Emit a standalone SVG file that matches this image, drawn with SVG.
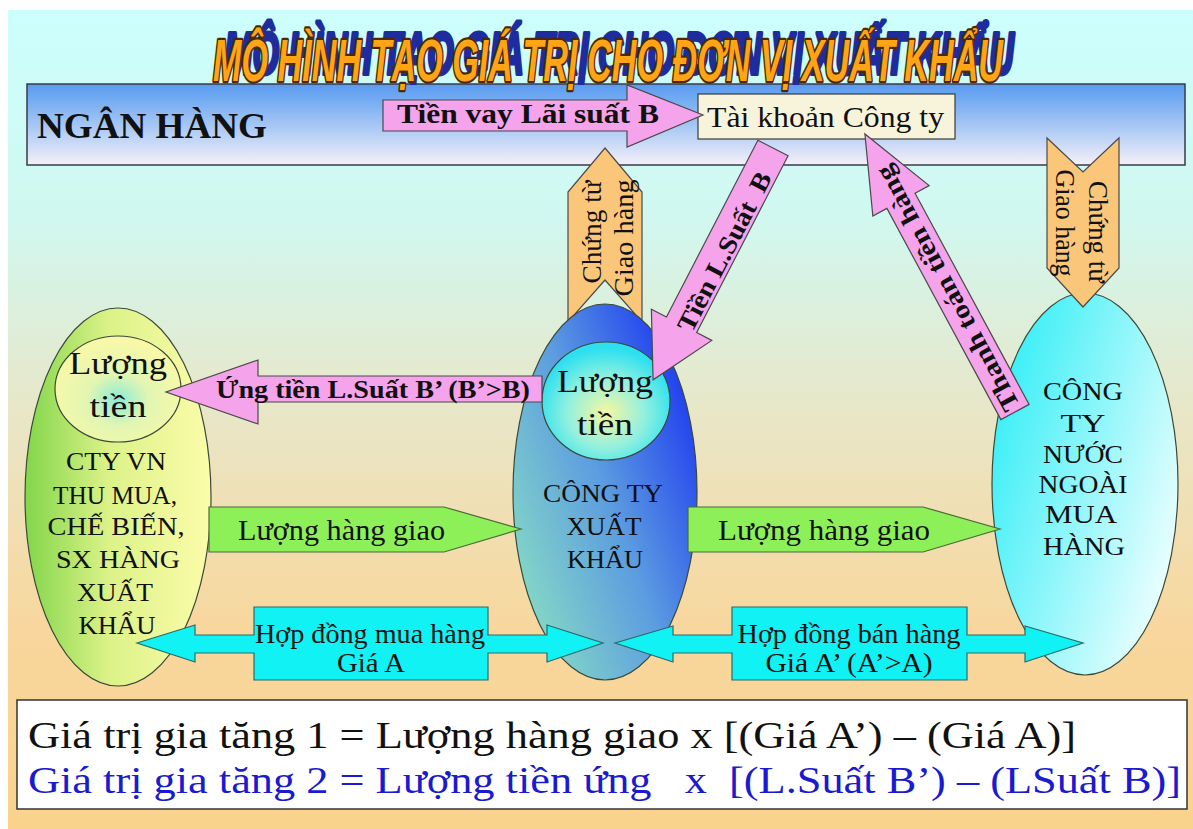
<svg xmlns="http://www.w3.org/2000/svg" width="1193" height="829" viewBox="0 0 1193 829">
  <defs>
    <linearGradient id="bgGrad" x1="0" y1="0" x2="0" y2="1">
      <stop offset="0" stop-color="#ccfffd"/>
      <stop offset="0.25" stop-color="#d0f8f0"/>
      <stop offset="0.5" stop-color="#e9e6c6"/>
      <stop offset="0.75" stop-color="#f8d79e"/>
      <stop offset="1" stop-color="#fad28c"/>
    </linearGradient>
    <linearGradient id="bankGrad" x1="0" y1="0" x2="0" y2="1">
      <stop offset="0" stop-color="#5a9af0"/>
      <stop offset="0.2" stop-color="#74acf2"/>
      <stop offset="1" stop-color="#f4f0f8"/>
    </linearGradient>
    <linearGradient id="vnGrad" x1="0" y1="0" x2="1" y2="0">
      <stop offset="0" stop-color="#82d64a"/>
      <stop offset="0.45" stop-color="#dcf288"/>
      <stop offset="1" stop-color="#fcfcaa"/>
    </linearGradient>
    <radialGradient id="vnCoin" cx="0.5" cy="0.6" r="0.55">
      <stop offset="0" stop-color="#8eead6"/>
      <stop offset="0.45" stop-color="#e2f6b2"/>
      <stop offset="1" stop-color="#f8f8a8"/>
    </radialGradient>
    <linearGradient id="expGrad" x1="0.1" y1="0.85" x2="0.95" y2="0.2">
      <stop offset="0" stop-color="#84d8c6"/>
      <stop offset="0.5" stop-color="#5c9ce0"/>
      <stop offset="1" stop-color="#1e3cf0"/>
    </linearGradient>
    <radialGradient id="expCoin" cx="0.5" cy="0.6" r="0.55">
      <stop offset="0" stop-color="#f6f7a0"/>
      <stop offset="0.55" stop-color="#92f0de"/>
      <stop offset="1" stop-color="#2ce0f0"/>
    </radialGradient>
    <linearGradient id="fgnGrad" x1="0" y1="0.2" x2="1" y2="0.8">
      <stop offset="0" stop-color="#30eef6"/>
      <stop offset="1" stop-color="#f6ffff"/>
    </linearGradient>
    <style>
      .serif { font-family: "Liberation Serif", "Times New Roman", serif; fill: #111; }
      .bold { font-weight: bold; }
      .mid { text-anchor: middle; }
      .pink { fill: #f5a3ea; stroke: #4a4a4a; stroke-width: 1.2; }
      .doc { fill: #f9c67a; stroke: #4a4a4a; stroke-width: 1.2; }
      .goods { fill: #8ef058; stroke: #4a6a3a; stroke-width: 1.2; }
      .deal { fill: #10f2f4; stroke: #2a6a6a; stroke-width: 1.2; }
      .node { stroke: #3a4a3a; stroke-width: 1.2; }
      .title { font-family: "Liberation Sans", Arial, sans-serif; font-weight: bold; font-style: italic; font-size: 60px; paint-order: stroke; stroke-linejoin: round; }
    </style>
  </defs>

  <!-- backdrop -->
  <rect x="0" y="0" width="1193" height="829" fill="#ffffff"/>
  <rect x="8" y="10" width="1185" height="819" fill="url(#bgGrad)"/>

  <!-- bank band -->
  <g id="bank">
    <rect x="27" y="84" width="1158" height="81" fill="url(#bankGrad)" stroke="#3a3a4a" stroke-width="1.5"/>
    <text class="serif bold" x="37" y="138" font-size="36" textLength="230" lengthAdjust="spacingAndGlyphs">NGÂN HÀNG</text>
  </g>

  <!-- heading: blue drop copy under an outlined orange face -->
  <g id="heading">
    <text class="title" x="224" y="74" fill="#1e2c9e" stroke="#1e2c9e" stroke-width="4" textLength="790" lengthAdjust="spacingAndGlyphs">MÔ HÌNH TẠO GIÁ TRỊ CHO ĐƠN VỊ XUẤT KHẨU</text>
    <text class="title" x="213" y="81" fill="#ffa416" stroke="#4a2a00" stroke-width="4.5" textLength="790" lengthAdjust="spacingAndGlyphs">MÔ HÌNH TẠO GIÁ TRỊ CHO ĐƠN VỊ XUẤT KHẨU</text>
  </g>

  <!-- company account -->
  <g id="account">
    <rect x="698" y="94" width="257" height="45" fill="#f8f4dc" stroke="#3a3a3a" stroke-width="1.2"/>
    <text class="serif" x="707" y="127" font-size="30" textLength="237" lengthAdjust="spacingAndGlyphs">Tài khoản Công ty</text>
  </g>

  <!-- delivery documents behind the exporter -->
  <g id="docs-exporter">
    <polygon class="doc" points="605,148 642,192 642,322 605,280 568,322 568,192"/>
  </g>

  <!-- Vietnamese supplier -->
  <g id="supplier">
    <ellipse class="node" cx="118" cy="497" rx="93" ry="189" fill="url(#vnGrad)"/>
    <ellipse class="node" cx="118" cy="389" rx="63" ry="53" fill="url(#vnCoin)"/>
    <text class="serif mid" x="118" y="374" font-size="31" textLength="98" lengthAdjust="spacingAndGlyphs">Lượng</text>
    <text class="serif mid" x="118" y="417" font-size="31" textLength="57" lengthAdjust="spacingAndGlyphs">tiền</text>
    <g class="serif mid" font-size="25">
      <text x="116" y="470" textLength="100" lengthAdjust="spacingAndGlyphs">CTY VN</text>
      <text x="115" y="504" textLength="124" lengthAdjust="spacingAndGlyphs">THU MUA,</text>
      <text x="116" y="535" textLength="137" lengthAdjust="spacingAndGlyphs">CHẾ BIẾN,</text>
      <text x="118" y="568" textLength="124" lengthAdjust="spacingAndGlyphs">SX HÀNG</text>
      <text x="115" y="601" textLength="76" lengthAdjust="spacingAndGlyphs">XUẤT</text>
      <text x="117" y="634" textLength="77" lengthAdjust="spacingAndGlyphs">KHẨU</text>
    </g>
  </g>

  <!-- exporting company -->
  <g id="exporter">
    <ellipse class="node" cx="605" cy="492" rx="92" ry="188" fill="url(#expGrad)"/>
    <ellipse class="node" cx="606" cy="401" rx="64" ry="59" fill="url(#expCoin)"/>
    <text class="serif mid" x="605" y="392" font-size="31" textLength="96" lengthAdjust="spacingAndGlyphs">Lượng</text>
    <text class="serif mid" x="605" y="435" font-size="31" textLength="56" lengthAdjust="spacingAndGlyphs">tiền</text>
    <g class="serif mid" font-size="25">
      <text x="603" y="502" textLength="120" lengthAdjust="spacingAndGlyphs">CÔNG TY</text>
      <text x="604" y="535" textLength="75" lengthAdjust="spacingAndGlyphs">XUẤT</text>
      <text x="605" y="568" textLength="76" lengthAdjust="spacingAndGlyphs">KHẨU</text>
    </g>
  </g>

  <!-- foreign buyer -->
  <g id="buyer">
    <ellipse class="node" cx="1085" cy="484" rx="93" ry="191" fill="url(#fgnGrad)"/>
    <g class="serif mid" font-size="25">
      <text x="1083" y="400" textLength="80" lengthAdjust="spacingAndGlyphs">CÔNG</text>
      <text x="1083" y="432" textLength="45" lengthAdjust="spacingAndGlyphs">TY</text>
      <text x="1083" y="463" textLength="80" lengthAdjust="spacingAndGlyphs">NƯỚC</text>
      <text x="1083" y="493" textLength="89" lengthAdjust="spacingAndGlyphs">NGOÀI</text>
      <text x="1081" y="523" textLength="72" lengthAdjust="spacingAndGlyphs">MUA</text>
      <text x="1084" y="555" textLength="82" lengthAdjust="spacingAndGlyphs">HÀNG</text>
    </g>
  </g>

  <!-- flows between the parties -->
  <g id="connectors">
    <!-- exporter's delivery documents to the bank -->
    <g transform="translate(605,235) rotate(-90)" class="serif mid" font-size="27">
      <text x="3" y="-4" textLength="103" lengthAdjust="spacingAndGlyphs">Chứng từ</text>
      <text x="-3" y="28" textLength="117" lengthAdjust="spacingAndGlyphs">Giao hàng</text>
    </g>

    <!-- loan from the bank -->
    <polygon class="pink" points="383,100 627,100 627,85 703,115 627,147 627,131 383,131"/>
    <text class="serif bold" x="397" y="123" font-size="28" textLength="262" lengthAdjust="spacingAndGlyphs">Tiền vay Lãi suất B</text>

    <!-- interest money to the exporter -->
    <polygon class="pink" transform="translate(773,148) rotate(117.35)" points="0,-17 199,-17 199,-34 261,0 199,34 199,17 0,17"/>
    <text class="serif bold mid" transform="translate(725,252) rotate(-62.65)" x="0" y="8" font-size="26" textLength="176" lengthAdjust="spacingAndGlyphs" xml:space="preserve">Tiền L.Suất  B</text>

    <!-- payment from the foreign buyer -->
    <polygon class="pink" transform="translate(1015,412) rotate(-118.36)" points="0,-16 240,-16 240,-32 316,0 240,32 240,16 0,16"/>
    <text class="serif bold mid" transform="translate(948,288) rotate(-118.36)" x="0" y="8" font-size="26" textLength="275" lengthAdjust="spacingAndGlyphs">Thanh toán tiền hàng</text>

    <!-- buyer's delivery documents -->
    <polygon class="doc" points="1047,138 1083,172 1119,138 1119,268 1083,307 1047,268"/>
    <g transform="translate(1083,228) rotate(90)" class="serif mid" font-size="27">
      <text x="4" y="-6" textLength="102" lengthAdjust="spacingAndGlyphs">Chứng từ</text>
      <text x="-5" y="27" textLength="107" lengthAdjust="spacingAndGlyphs">Giao hàng</text>
    </g>

    <!-- advance to the supplier -->
    <polygon class="pink" points="542,376 258,376 258,360 166,392 258,424 258,402 542,402"/>
    <text class="serif bold" x="216" y="398" font-size="25" textLength="314" lengthAdjust="spacingAndGlyphs">Ứng tiền L.Suất B’ (B’&gt;B)</text>

    <!-- goods deliveries -->
    <polygon class="goods" points="209,507 444,507 521,529 444,552 209,552"/>
    <text class="serif" x="238" y="540" font-size="30" textLength="207" lengthAdjust="spacingAndGlyphs">Lượng hàng giao</text>
    <polygon class="goods" points="688,507 923,507 1000,529 923,552 688,552"/>
    <text class="serif" x="718" y="540" font-size="30" textLength="212" lengthAdjust="spacingAndGlyphs">Lượng hàng giao</text>

    <!-- purchase contract -->
    <polygon class="deal" points="137,643 195,625 195,635 254,635 254,607 488,607 488,635 547,635 547,625 603,643 547,662 547,653 488,653 488,680 254,680 254,653 195,653 195,662"/>
    <text class="serif mid" x="370" y="643" font-size="28" textLength="230" lengthAdjust="spacingAndGlyphs">Hợp đồng mua hàng</text>
    <text class="serif mid" x="371" y="672" font-size="28" textLength="68" lengthAdjust="spacingAndGlyphs">Giá A</text>

    <!-- sales contract -->
    <polygon class="deal" points="615,643 673,626 673,635 732,635 732,607 967,607 967,635 1025,635 1025,626 1083,643 1025,662 1025,653 967,653 967,680 732,680 732,653 673,653 673,662"/>
    <text class="serif mid" x="849" y="643" font-size="28" textLength="223" lengthAdjust="spacingAndGlyphs">Hợp đồng bán hàng</text>
    <text class="serif mid" x="849" y="672" font-size="28" textLength="167" lengthAdjust="spacingAndGlyphs">Giá A’ (A’&gt;A)</text>
  </g>

  <!-- value-added formulas -->
  <g id="formulas">
    <rect x="17" y="700" width="1170" height="109" fill="#ffffff" stroke="#333333" stroke-width="1.5"/>
    <text class="serif" x="28" y="748" font-size="38" textLength="1048" lengthAdjust="spacingAndGlyphs">Giá trị gia tăng 1 = Lượng hàng giao x [(Giá A’) – (Giá A)]</text>
    <text class="serif" x="28" y="793" font-size="38" style="fill:#1a1ad0" textLength="1153" lengthAdjust="spacingAndGlyphs" xml:space="preserve">Giá trị gia tăng 2 = Lượng tiền ứng   x  [(L.Suất B’) – (LSuất B)]</text>
  </g>
</svg>
